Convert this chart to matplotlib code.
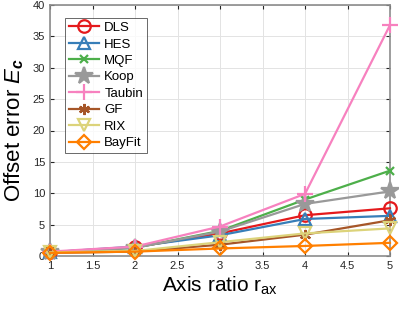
import matplotlib
matplotlib.use('Agg')
import matplotlib.pyplot as plt

plt.rcParams['font.family'] = ['Liberation Sans', 'DejaVu Sans']
plt.rcParams['mathtext.fontset'] = 'custom'
plt.rcParams['mathtext.rm'] = 'Liberation Sans'
plt.rcParams['mathtext.it'] = 'Liberation Sans:italic'
plt.rcParams['mathtext.bf'] = 'Liberation Sans:bold'
plt.rcParams['mathtext.bfit'] = 'Liberation Sans:italic:bold'

ratios = [1, 2, 3, 4, 5]
methods = ['DLS', 'HES', 'MQF', 'Koop', 'Taubin', 'GF', 'RIX', 'BayFit']
dls = [0.6, 1.4, 3.6, 6.5, 7.6]
hes = [0.6, 1.5, 3.3, 5.9, 6.4]
mqf = [0.6, 1.3, 4.0, 9.0, 13.6]
koop = [0.6, 1.3, 3.9, 8.3, 10.3]
taubin = [0.7, 1.5, 4.7, 9.9, 36.8]
gf = [0.5, 0.7, 1.8, 3.4, 5.7]
rix = [0.6, 0.8, 2.2, 3.6, 4.4]
bayfit = [0.5, 0.7, 1.2, 1.6, 2.1]
series = [dls, hes, mqf, koop, taubin, gf, rix, bayfit]

colors = ['#E41A1C', '#377EB8', '#4DAF4A', '#999999', '#F781BF', '#A65628', '#DCD37A', '#FF7F00']
markers = ['o', '^', 'x', '*', '+', (6, 2, 0), 'v', 'D']
msizes = [9, 9, 6, 13, 11, 8, 9, 7]
filled = [False, False, True, True, True, True, False, False]

fig = plt.figure(figsize=(3.99, 3.09), dpi=100)
ax = fig.add_axes([50/399, 1 - 256/309, 340/399, 251/309])

for i, name in enumerate(methods):
    ax.plot(ratios, series[i], color=colors[i], marker=markers[i], ms=msizes[i],
            mew=1.6, lw=1.6, mfc=colors[i] if filled[i] else 'none',
            label=name, clip_on=False, zorder=3)

ax.set_xlim(1, 5)
ax.set_ylim(0, 40)
ax.set_xticks([1, 1.5, 2, 2.5, 3, 3.5, 4, 4.5, 5])
ax.set_xticklabels(['1', '1.5', '2', '2.5', '3', '3.5', '4', '4.5', '5'])
ax.set_yticks(range(0, 41, 5))
ax.grid(True, color='#e3e3e3', lw=0.7)
ax.set_axisbelow(True)
ax.tick_params(direction='in', labelsize=8, colors='#262626', length=3, top=True, right=True)
for s in ax.spines.values():
    s.set_color('#8c8c8c')
    s.set_linewidth(1.2)

ax.set_xlabel(r'Axis ratio r$_{\mathregular{ax}}$', fontsize=15, labelpad=3)
ax.set_ylabel(r'Offset error $E_{\mathbfit{c}}$', fontsize=16, labelpad=5)

leg = ax.legend(loc='upper left', fontsize=9.5, frameon=True, fancybox=False,
                edgecolor='#262626', handlelength=2.3, borderpad=0.3,
                labelspacing=0.32, handletextpad=0.4, bbox_to_anchor=(0.024, 0.975))
leg.get_frame().set_linewidth(0.6)

fig.savefig('out.png', dpi=100)
